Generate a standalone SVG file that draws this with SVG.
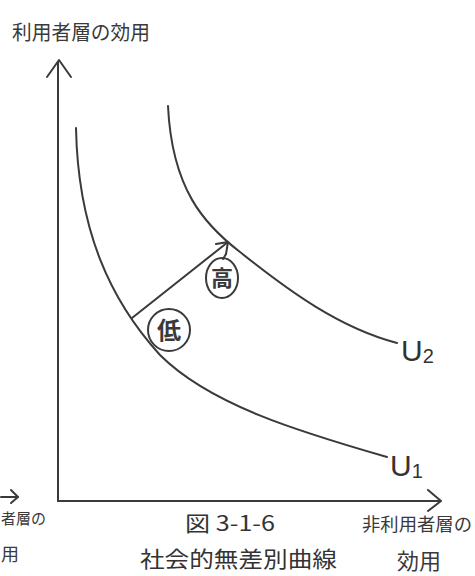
<svg xmlns="http://www.w3.org/2000/svg" width="475" height="576" viewBox="0 0 475 576">
<style>
.ln{fill:none;stroke:#3a3a3a;stroke-width:2;stroke-linecap:round;stroke-linejoin:round}
.t{font-family:"Noto Sans CJK JP","Noto Sans",sans-serif;fill:#3a3a3a}
.cap{font-family:"Noto Sans CJK JP","Noto Sans",sans-serif;fill:#333}
.u{font-family:"Liberation Sans","DejaVu Sans",sans-serif;fill:#333}
</style>
<rect width="475" height="576" fill="#ffffff"/>
<g id="connectors">
  <path id="y-axis" class="ln" d="M58,62 L58,501"/>
  <polyline class="ln" points="47,77 59,60 71,77"/>
  <path id="x-axis" class="ln" d="M58,501 L440,501"/>
  <polyline class="ln" points="428,490 441,501 428,511"/>
  <path id="shift-arrow" class="ln" d="M132,318 L228,242"/>
  <polyline class="ln" points="216,244 228,242 226,254"/>
  <path class="ln" d="M226,254 L223,259"/>
</g>
<g id="U1">
  <path class="ln" d="M76,128 C78,230 110,300 160,355 C210,405 300,432 387,457"/>
  <text class="u" x="390" y="476" font-size="30">U<tspan font-size="20" dy="2">1</tspan></text>
</g>
<g id="U2">
  <path class="ln" d="M168,106 C172,190 205,225 240,252 C290,292 340,328 397,343"/>
  <text class="u" x="401" y="361" font-size="30">U<tspan font-size="20" dy="2">2</tspan></text>
</g>
<g id="low">
  <circle class="ln" cx="169" cy="330" r="21"/>
  <text class="t" x="169" y="339" font-size="24" font-weight="bold" text-anchor="middle">低</text>
</g>
<g id="high">
  <ellipse class="ln" cx="222" cy="278" rx="16" ry="20"/>
  <text class="t" x="222" y="286" font-size="22" font-weight="bold" text-anchor="middle">高</text>
</g>
<g id="labels">
  <text class="t" x="12" y="40" font-size="20" textLength="138" lengthAdjust="spacingAndGlyphs">利用者層の効用</text>
  <text class="t" x="362" y="531" font-size="18" textLength="110" lengthAdjust="spacingAndGlyphs">非利用者層の</text>
  <text class="t" x="397" y="569" font-size="22">効用</text>
  <text class="cap" x="185" y="531" font-size="21" textLength="90" lengthAdjust="spacingAndGlyphs">図 3-1-6</text>
  <text class="cap" x="140" y="567" font-size="22" textLength="197" lengthAdjust="spacingAndGlyphs">社会的無差別曲線</text>
  <text class="t" x="1" y="524" font-size="15">者層の</text>
  <text class="t" x="1" y="561" font-size="18">用</text>
  <polyline class="ln" points="1,497 18,497"/>
  <polyline class="ln" points="11,490 18,497 11,503"/>
</g>
</svg>
